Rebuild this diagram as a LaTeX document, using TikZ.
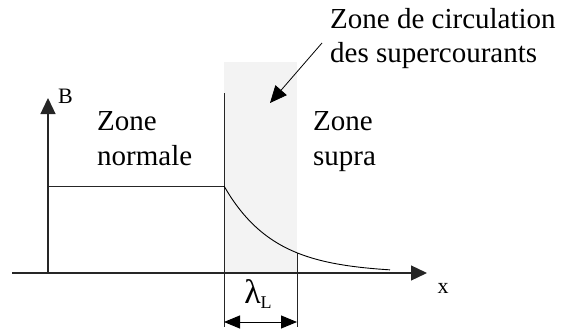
\documentclass[tikz,border=0pt]{standalone}
\usepackage{fontspec}
\setmainfont{Liberation Serif}
\usetikzlibrary{arrows.meta,positioning}
\definecolor{zonegray}{HTML}{F3F3F3}

\begin{document}
\begin{tikzpicture}[
    x=1pt, y=-1pt,
    >={Triangle[length=16pt,width=15pt]},
    axis/.style={->, draw=black!85, line width=1.3pt},
    thin/.style={draw=black!85, line width=1pt},
    curve/.style={draw=black, line width=.9pt},
    pointer/.style={-{Triangle[length=17pt,width=15pt]}, draw=black, line width=.8pt},
    dim/.style={<->, draw=black, line width=1pt, >={Triangle[length=16pt,width=13pt]}},
    zonetxt/.style={font=\fontsize{29}{35}\selectfont, align=left, inner sep=0pt, anchor=base west},
    lab/.style={font=\fontsize{22}{26}\selectfont, inner sep=0pt}
  ]
    \useasboundingbox (0,0) rectangle (566,332);

    % shaded zone
    \fill[zonegray] (224,62) rectangle (297,273);

    \coordinate (origin) at (48,273);
    \coordinate (xstart) at (12,273);
    \coordinate (xend) at (427,273);
    \coordinate (yend) at (48,98);
    \coordinate (edgetop) at (224,93);
    \coordinate (edgebot) at (224,327);
    \coordinate (lamtop) at (297,253);
    \coordinate (lambot) at (297,327);

    \draw[axis] (xstart) -- (xend);
    \draw[axis] (origin) -- (yend);
    \draw[thin] (edgetop) -- (edgebot);
    \draw[thin] (lamtop) -- (lambot);
    \draw[thin] (origin |- 0,186) -- (edgetop |- 0,186);
    \draw[curve] plot[domain=224:390, samples=60] (\x, {273-87*exp(-(\x-224)/50)});

    \node[lab, anchor=base west] (Blab) at (58,103) {B};
    \node[lab, anchor=base] (xlab) at (443,293) {x};

    % last line sits on the given baseline
    \node[zonetxt] (normal) at (97,165) {Zone\\normale};
    \node[zonetxt] (supra) at (313,165) {Zone\\supra};
    \node[zonetxt] (circ) at (330,63) {Zone de circulation\\des supercourants};

    \coordinate (ptrstart) at (322,43);
    \coordinate (ptrtip) at (270,103);
    \draw[pointer] (ptrstart) -- (ptrtip);

    % lambda_L
    \coordinate (dimleft) at (224,322);
    \coordinate (dimright) at (297,322);
    \draw[dim] (dimleft) -- (dimright);
    \node[inner sep=0pt, anchor=base] (lambda) at (258,303)
      {\fontsize{34}{38}\selectfont λ\raisebox{-5pt}{\fontsize{18}{20}\selectfont L}};
\end{tikzpicture}
\end{document}
